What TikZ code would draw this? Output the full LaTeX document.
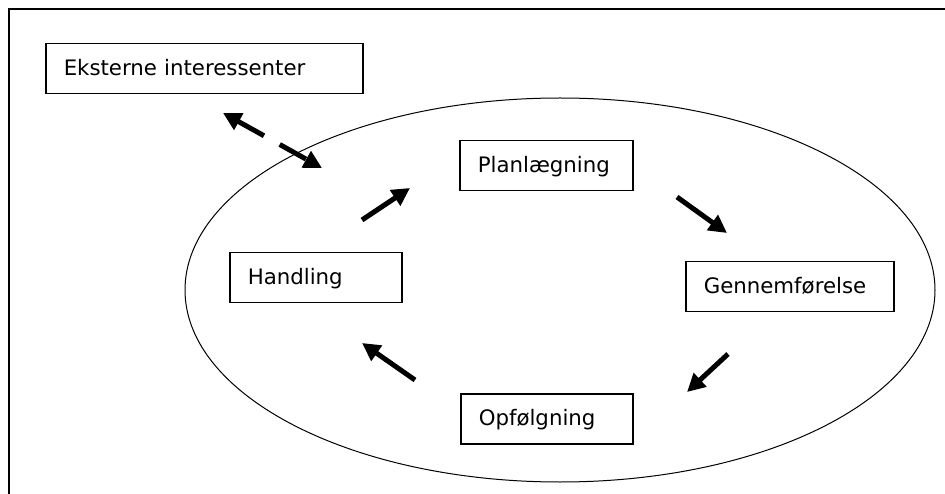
\documentclass[tikz,border=0pt]{standalone}
\usepackage{fontspec}
\setmainfont{DejaVu Sans}
\usetikzlibrary{arrows.meta}
\begin{document}
\begin{tikzpicture}[x=1pt,y=-1pt,
  stagebox/.style={draw, line width=1.5pt, inner xsep=18pt, inner ysep=0pt,
    text width=#1-36pt, align=left, minimum height=50pt, anchor=north west,
    text height=17pt, text depth=3pt,
    font=\fontsize{21.3}{24}\selectfont},
  flow/.style={line width=5pt, -{Triangle[length=18pt,width=18pt]}},
  extflow/.style={line width=5pt, dash pattern=on 30pt off 18pt,
    {Triangle[length=18pt,width=18pt]}-{Triangle[length=18pt,width=18pt]}}]
\useasboundingbox (0,0) rectangle (945,494);
\fill[white] (0,0) rectangle (945,494);
\draw[line width=1.5pt] (9,494) -- (9,9) -- (945,9);
\draw[line width=1pt] (560,290) ellipse [x radius=375, y radius=192];
\node[stagebox=317pt] (ext) at (45,43) {Eksterne interessenter};
\node[stagebox=173pt] (plan) at (459,140) {Planlægning};
\node[stagebox=208pt] (gen) at (685,261) {Gennemførelse};
\node[stagebox=172pt] (hand) at (229,252) {Handling};
\node[stagebox=172pt] (opf) at (460,393) {Opfølgning};
\coordinate (e1) at (223,113);
\coordinate (e2) at (322,168);
\coordinate (a1) at (362,220);
\coordinate (a2) at (410,188);
\coordinate (b1) at (677,197);
\coordinate (b2) at (727,233);
\coordinate (c1) at (728,354);
\coordinate (c2) at (687,392);
\coordinate (d1) at (415,380);
\coordinate (d2) at (362,343);
\draw[extflow] (e1) -- (e2);
\draw[flow] (a1) -- (a2);
\draw[flow] (b1) -- (b2);
\draw[flow] (c1) -- (c2);
\draw[flow] (d1) -- (d2);
\end{tikzpicture}
\end{document}
